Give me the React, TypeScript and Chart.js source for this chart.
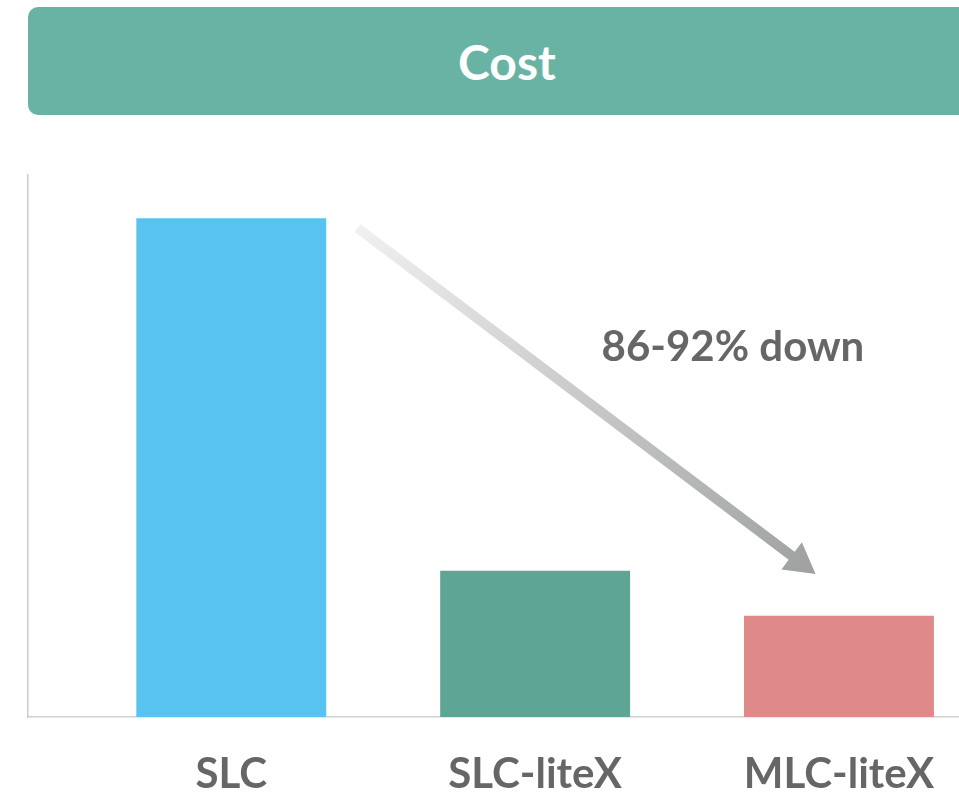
import React, { useEffect, useRef } from "react";
import { Chart, registerables } from "chart.js";

Chart.register(...registerables);

// ---- data ----
const categories = ["SLC", "SLC-liteX", "MLC-liteX"];
const costValues = [92.0, 27.0, 18.7];
const barColors = ["#58c3f0", "#5fa595", "#e0898b"];
const titleText = "Cost";
const annotationText = "86-92% down";
// annotation arrow, in data coordinates (x = category index, y = value)
const arrowFrom = { x: 0.416, y: 90.2 };
const arrowTo = { x: 1.923, y: 26.4 };
const annotationAt = { x: 1.651, y: 65.6 };

const FONT = "Lato, 'Open Sans', sans-serif";

const arrowPlugin = {
  id: "arrowNote",
  afterDatasetsDraw(chart: any) {
    const { ctx } = chart;
    const xs = chart.scales.x;
    const ys = chart.scales.y;
    const x1 = xs.getPixelForValue(arrowFrom.x);
    const y1 = ys.getPixelForValue(arrowFrom.y);
    const x2 = xs.getPixelForValue(arrowTo.x);
    const y2 = ys.getPixelForValue(arrowTo.y);
    const dx = x2 - x1;
    const dy = y2 - y1;
    const len = Math.hypot(dx, dy);
    const ux = dx / len;
    const uy = dy / len;
    const px = -uy;
    const py = ux;
    const headLen = 30;
    const headHalf = 17;
    const shaftHalf = 5;
    const bx = x2 - ux * headLen;
    const by = y2 - uy * headLen;
    ctx.save();
    const grad = ctx.createLinearGradient(x1, y1, x2, y2);
    grad.addColorStop(0, "#f0f0f0");
    grad.addColorStop(1, "#9fa1a0");
    ctx.fillStyle = grad;
    ctx.beginPath();
    ctx.moveTo(x1 + px * shaftHalf, y1 + py * shaftHalf);
    ctx.lineTo(bx + px * shaftHalf, by + py * shaftHalf);
    ctx.lineTo(bx + px * headHalf, by + py * headHalf);
    ctx.lineTo(x2, y2);
    ctx.lineTo(bx - px * headHalf, by - py * headHalf);
    ctx.lineTo(bx - px * shaftHalf, by - py * shaftHalf);
    ctx.lineTo(x1 - px * shaftHalf, y1 - py * shaftHalf);
    ctx.closePath();
    ctx.fill();

    ctx.font = `bold 42px ${FONT}`;
    ctx.fillStyle = "#666666";
    ctx.textAlign = "center";
    ctx.textBaseline = "alphabetic";
    ctx.fillText(
      annotationText,
      xs.getPixelForValue(annotationAt.x),
      ys.getPixelForValue(annotationAt.y)
    );
    ctx.restore();
  },
};

export default function App() {
  const canvasRef = useRef<HTMLCanvasElement | null>(null);

  useEffect(() => {
    if (!canvasRef.current) return;
    const chart = new Chart(canvasRef.current, {
      type: "bar",
      data: {
        datasets: [
          {
            data: categories.map((c, i) => ({ x: i, y: costValues[i] })) as any,
            backgroundColor: barColors,
            borderWidth: 0,
            barPercentage: 0.625,
            categoryPercentage: 1,
          },
        ],
      },
      options: {
        responsive: false,
        animation: false,
        layout: { padding: { left: 20, top: 167, right: 0, bottom: 0 } },
        plugins: {
          legend: { display: false },
          tooltip: { enabled: false },
          title: { display: false },
        },
        scales: {
          x: {
            type: "linear",
            offset: false,
            min: -0.669,
            max: 2.395,
            grid: { display: false, drawTicks: false, offset: false },
            border: { display: true, color: "#d0d0d0", width: 1.5 },
            afterBuildTicks: (scale: any) => {
              scale.ticks = categories.map((_, i) => ({ value: i }));
            },
            ticks: {
              padding: 0,
              color: "#666666",
              font: { family: FONT, size: 42, weight: "bold", lineHeight: 2.714 },
              callback: (v: any) => categories[Math.round(Number(v))] ?? "",
              autoSkip: false,
              maxRotation: 0,
            },
          },
          y: {
            min: 0,
            max: 100,
            grid: { display: false, drawTicks: false },
            border: { display: true, color: "#cccccc", width: 1.5 },
            ticks: { display: false },
          },
        },
      },
      plugins: [arrowPlugin],
    });
    return () => chart.destroy();
  }, []);

  return (
    <div
      style={{
        position: "fixed",
        left: 0,
        top: 0,
        width: 959,
        height: 797,
        overflow: "hidden",
      }}
    >
      <div
        style={{
          position: "absolute",
          left: 28,
          top: 7,
          width: 958,
          height: 108,
          borderRadius: 10,
          background: "#69b3a4",
          color: "#ffffff",
          display: "flex",
          alignItems: "center",
          justifyContent: "center",
          fontFamily: FONT,
          fontWeight: 700,
          fontSize: 48,
        }}
      >
        {titleText}
      </div>
      <canvas
        ref={canvasRef}
        width={951}
        height={823}
        style={{ position: "absolute", left: 8, top: 8, display: "block" }}
      />
    </div>
  );
}
